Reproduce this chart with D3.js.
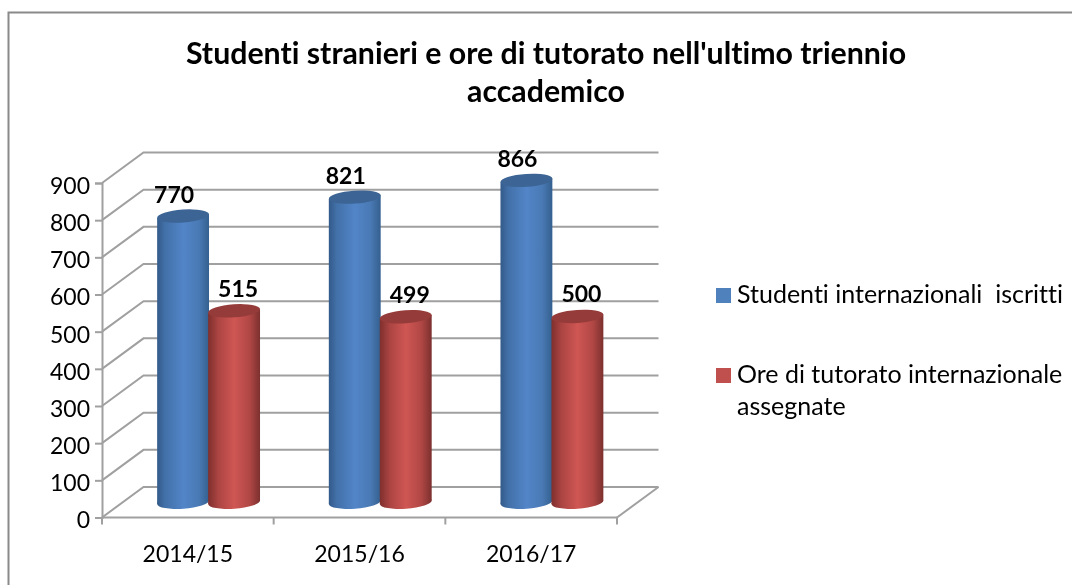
<!DOCTYPE html>
<html>
<head>
<meta charset="utf-8">
<script src="https://cdn.jsdelivr.net/npm/d3@7"></script>
<style>
  html, body { margin: 0; padding: 0; background: #fff; }
  svg { display: block; font-family: Lato, "Open Sans", sans-serif; font-variant-ligatures: none; filter: blur(0.35px); }
  text { white-space: pre; }
</style>
</head>
<body>
<svg id="chart" width="1072" height="585"></svg>
<script>
const titleLines = ["Studenti stranieri e ore di tutorato nell'ultimo triennio", "accademico"];
const years = ["2014/15", "2015/16", "2016/17"];
const studenti = [770, 821, 866];
const ore = [515, 499, 500];
const seriesNames = ["Studenti internazionali  iscritti", "Ore di tutorato internazionale"];
const yTicks = [0, 100, 200, 300, 400, 500, 600, 700, 800, 900];

const svg = d3.select("#chart");
const gridColor = "#a0a0a0";
const depthX = 41.5, depthY = -30.5;

const x = d3.scaleBand().domain(years).range([102, 617]).paddingInner(0).paddingOuter(0);
const y = d3.scaleLinear().domain([0, 900]).range([517.5, 183]);
const sub = d3.scaleBand().domain([0, 1]).range([x.bandwidth() / 2 - 51, x.bandwidth() / 2 + 51]);

const defs = svg.append("defs");
const bodyGradient = (id, stops) => {
  const g = defs.append("linearGradient").attr("id", id);
  stops.forEach(s => g.append("stop").attr("offset", s[0]).attr("stop-color", s[1]));
};
bodyGradient("blueBody", [[0, "#335a8a"], [0.15, "#4270a8"], [0.5, "#5285c8"], [0.8, "#4a7ab5"], [1, "#34608f"]]);
bodyGradient("redBody", [[0, "#7f2f2d"], [0.2, "#ac4543"], [0.5, "#cf5653"], [0.8, "#b04745"], [1, "#7c302e"]]);

svg.append("path")
  .attr("d", "M8.5,585V12.5H1072")
  .attr("fill", "none").attr("stroke", "#8a8a8a").attr("stroke-width", 2);

// title
svg.append("text")
  .attr("font-weight", 700).attr("font-size", 30.3).attr("fill", "#000").attr("text-anchor", "middle")
  .selectAll("tspan").data(titleLines).enter().append("tspan")
  .attr("x", 546).attr("y", (d, i) => 64 + i * 38).text(d => d);

// walls
const grid = svg.append("g").attr("fill", "none").attr("stroke", gridColor).attr("stroke-width", 2);
yTicks.forEach(t => {
  grid.append("path").attr("d", d3.line()([
    [x.range()[0], y(t)],
    [x.range()[0] + depthX, y(t) + depthY],
    [x.range()[1] + depthX, y(t) + depthY]
  ]));
});
grid.append("path").attr("d", d3.line()([
  [x.range()[1], y(0)],
  [x.range()[1] + depthX, y(0) + depthY]
]));

// axes
const axisLeft = d3.axisLeft(y).tickValues(yTicks).tickSize(7).tickPadding(5);
const axisBottom = d3.axisBottom(x).tickSize(0).tickPadding(28);

const gy = svg.append("g").attr("transform", "translate(102,0)").call(axisLeft);
const gx = svg.append("g").attr("transform", `translate(0,${y(0)})`).call(axisBottom);
[gy, gx].forEach(g => {
  g.selectAll("path").attr("stroke", gridColor).attr("stroke-width", 2);
  g.selectAll("line").attr("stroke", gridColor).attr("stroke-width", 2);
  g.selectAll("text").attr("font-family", "Lato").attr("font-size", 23).attr("fill", "#000");
});
gy.selectAll("text").attr("dy", "0.45em");
gx.selectAll(".domain").attr("d", `M102,0H617`);
d3.range(4).forEach(i => {
  const tx = i < 3 ? x(years[i]) : x.range()[1];
  gx.append("line").attr("x1", tx).attr("x2", tx).attr("y1", 0).attr("y2", 7)
    .attr("stroke", gridColor).attr("stroke-width", 2);
});

// cylinders sit half way into the depth
const cylinder = (layer, year, s, value, body, top, labelDx, labelDy) => {
  const cx = x(year) + sub(s) + sub.bandwidth() / 2 + depthX / 2;
  const rx = sub.bandwidth() / 2 + 0.5, ry = 6.5, tilt = -4;
  const base = y(0) + depthY / 2;
  const topY = y(value) + depthY / 2;
  const ex = rx * Math.cos(tilt * Math.PI / 180);
  const ey = rx * Math.sin(tilt * Math.PI / 180);
  const g = layer.append("g");
  g.append("ellipse")
    .attr("cx", cx).attr("cy", base).attr("rx", rx).attr("ry", ry)
    .attr("transform", `rotate(${tilt} ${cx} ${base})`)
    .attr("fill", `url(#${body})`);
  g.append("path")
    .attr("d", d3.line()([
      [cx - ex, topY - ey], [cx - ex, base - ey],
      [cx + ex, base + ey], [cx + ex, topY + ey]
    ]) + "Z")
    .attr("fill", `url(#${body})`);
  g.append("ellipse")
    .attr("cx", cx).attr("cy", topY).attr("rx", rx).attr("ry", ry)
    .attr("transform", `rotate(${tilt} ${cx} ${topY})`)
    .attr("fill", top);
  layer.append("text")
    .attr("x", cx + labelDx).attr("y", topY + labelDy).attr("text-anchor", "middle")
    .attr("font-weight", 700).attr("font-size", 23).attr("fill", "#000")
    .text(value);
};

const bars = svg.append("g");
years.forEach((yr, i) => {
  cylinder(bars, yr, 0, studenti[i], "blueBody", "#3c6494", -9, -13);
  cylinder(bars, yr, 1, ore[i], "redBody", "#953b39", 4, -14);
});

// legend
const legend = svg.append("g").attr("font-size", 25).attr("fill", "#000");
legend.append("rect").attr("x", 716).attr("y", 288).attr("width", 15).attr("height", 15).attr("fill", "#4f81bd");
legend.append("text").attr("x", 737).attr("y", 303).text(seriesNames[0]);
legend.append("rect").attr("x", 716).attr("y", 368).attr("width", 15).attr("height", 15).attr("fill", "#c0504d");
legend.append("text").attr("x", 737).attr("y", 383).text(seriesNames[1]);
legend.append("text").attr("x", 737).attr("y", 415).text("assegnate");
</script>
</body>
</html>
